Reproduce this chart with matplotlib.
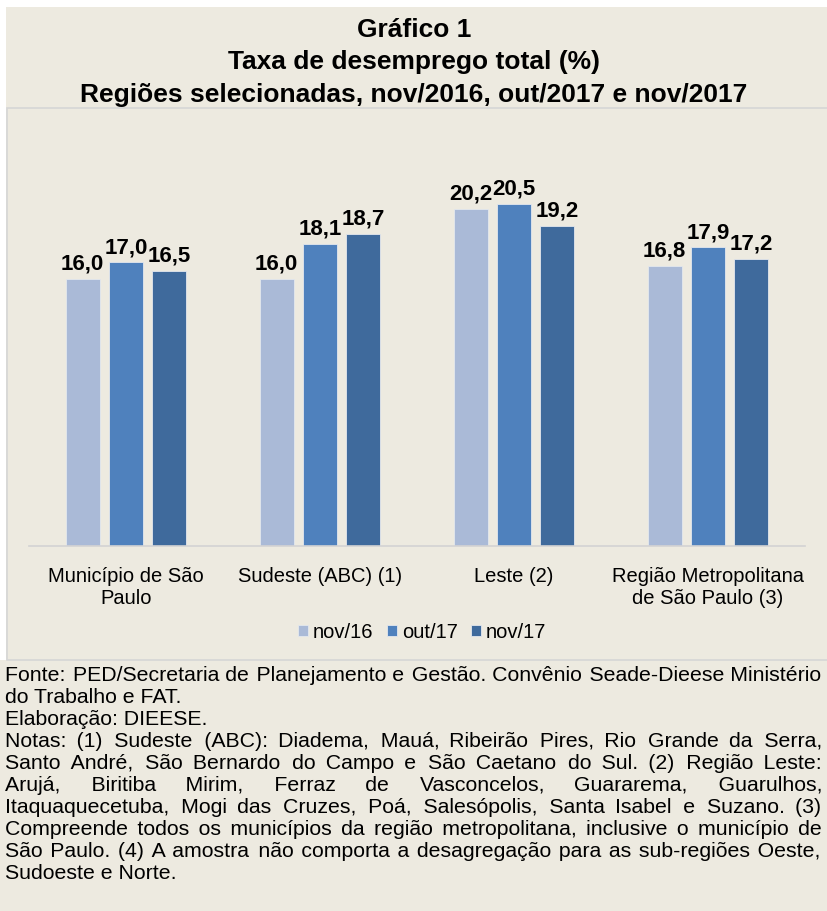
import matplotlib
matplotlib.use("Agg")
import matplotlib.pyplot as plt
from matplotlib.patches import Rectangle
import numpy as np

# ---- data ----
categories = ["Município de São\nPaulo", "Sudeste (ABC) (1)", "Leste (2)",
              "Região Metropolitana\nde São Paulo (3)"]
series_names = ["nov/16", "out/17", "nov/17"]
nov16 = [16.0, 16.0, 20.2, 16.8]
out17 = [17.0, 18.1, 20.5, 17.9]
nov17 = [16.5, 18.7, 19.2, 17.2]
colors = ["#AABAD7", "#4F81BD", "#3F6A9C"]

title_lines = ["Gráfico 1", "Taxa de desemprego total (%)",
               "Regiões selecionadas, nov/2016, out/2017 e nov/2017"]

notes = [
    ("Fonte: PED/Secretaria de Planejamento e Gestão. Convênio Seade-Dieese Ministério", True),
    ("do Trabalho e FAT.", False),
    ("Elaboração: DIEESE.", False),
    ("Notas: (1) Sudeste (ABC): Diadema, Mauá, Ribeirão Pires, Rio Grande da Serra,", True),
    ("Santo André, São Bernardo do Campo e São Caetano do Sul. (2) Região Leste:", True),
    ("Arujá, Biritiba Mirim, Ferraz de Vasconcelos, Guararema, Guarulhos,", True),
    ("Itaquaquecetuba, Mogi das Cruzes, Poá, Salesópolis, Santa Isabel e Suzano. (3)", True),
    ("Compreende todos os municípios da região metropolitana, inclusive o município de", True),
    ("São Paulo. (4) A amostra não comporta a desagregação para as sub-regiões Oeste,", True),
    ("Sudoeste e Norte.", False),
]

W, H = 827, 911
BG = "#EDEAE0"
FAM = ["Liberation Sans", "DejaVu Sans"]

fig = plt.figure(figsize=(W / 100, H / 100), dpi=100)
fig.patch.set_facecolor(BG)

def fx(px):
    return px / W

def fy(py):
    return 1 - py / H

# white strips (top / left)
fig.patches.append(Rectangle((0, fy(7)), 1, 7 / H, transform=fig.transFigure,
                             facecolor="white", edgecolor="none", zorder=-2))
fig.patches.append(Rectangle((0, fy(660)), 6 / W, 660 / H, transform=fig.transFigure,
                             facecolor="white", edgecolor="none", zorder=-2))
# chart box border
fig.patches.append(Rectangle((fx(7), fy(660)), (W + 5 - 7) / W, (660 - 108) / H,
                             transform=fig.transFigure, facecolor=BG,
                             edgecolor="#D6D6D6", linewidth=1.2, zorder=-1))

# ---- title ----
for i, t in enumerate(title_lines):
    fig.text(fx(414), fy(30 + i * 32.5), t, ha="center", va="center",
             fontsize=19, fontweight="bold", family=FAM, color="black")

# ---- axes ----
left, right = 29, 805
base, topy = 546, 129
ax = fig.add_axes([fx(left), fy(base), (right - left) / W, (base - topy) / H])
ax.set_facecolor("none")
x = np.arange(len(categories))
off = 0.224
width = 0.175
for k, (vals, c) in enumerate(zip([nov16, out17, nov17], colors)):
    bars = ax.bar(x + (k - 1) * off, vals, width=width, color=c,
                  edgecolor="#E4E8EE", linewidth=0.6, label=series_names[k])
    for b, v in zip(bars, vals):
        ax.annotate(f"{v:.1f}".replace(".", ","),
                    (b.get_x() + b.get_width() / 2, v),
                    xytext=(0, 3), textcoords="offset points",
                    ha="center", va="bottom", fontsize=16, fontweight="bold",
                    family=FAM, color="black")

ax.set_xlim(-0.5, len(categories) - 0.5)
ax.set_ylim(0, 25)
ax.set_yticks([])
for s in ["top", "right", "left"]:
    ax.spines[s].set_visible(False)
ax.spines["bottom"].set_color("#D3D3D3")
ax.spines["bottom"].set_linewidth(1.2)
ax.set_xticks(x)
ax.set_xticklabels(categories, fontsize=14.5, family=FAM, linespacing=1.2)
ax.tick_params(axis="x", length=0, pad=15)

leg = fig.legend(loc="center", bbox_to_anchor=(fx(422), fy(632)), ncol=3,
                 frameon=False, prop={"family": FAM, "size": 14.5},
                 handlelength=0.5, handleheight=0.5, handletextpad=0.25,
                 columnspacing=0.65)

# ---- justified notes (each line one text; gaps built from space characters) ----
renderer = fig.canvas.get_renderer()
x0, x1 = 5, 822

def width_of(s, fs):
    t = fig.text(0, 0, s, fontsize=fs, family=FAM)
    w = t.get_window_extent(renderer=renderer).width
    t.remove()
    return w

def adv(s, fs):
    return width_of("a" + s + "a", fs) - width_of("aa", fs)

scale = min((x1 - x0) / width_of(l, 10) for l, j in notes if j)
NFS = 10 * scale * 0.995

SP, TH, HR = " ", "\u2009", "\u200a"
w_sp, w_th, w_hr = adv(SP, NFS), adv(TH, NFS), adv(HR, NFS)

def justify(line):
    words = line.split(" ")
    ws = [adv(w, NFS) for w in words]
    g = (x1 - x0 - sum(ws)) / (len(words) - 1)
    out = words[0]
    cur = ws[0]
    acc = ws[0]
    for i in range(1, len(words)):
        target = acc + g
        need = target - cur
        n_sp = int(need // w_sp) if w_sp > 0 else 0
        rem = need - n_sp * w_sp
        n_th = int(rem // w_th) if w_th > 0 else 0
        rem -= n_th * w_th
        n_hr = int(round(rem / w_hr)) if w_hr > 0 else 0
        rem -= n_hr * w_hr
        out += SP * n_sp + TH * n_th + HR * n_hr + words[i]
        cur = target - rem + ws[i]
        acc = target + ws[i]
    return out

y0, dy = 681, 22
for i, (line, just) in enumerate(notes):
    y = y0 + i * dy
    s = justify(line) if just else line
    fig.text(fx(x0), fy(y), s, ha="left", va="baseline", fontsize=NFS,
             family=FAM, color="black")

fig.savefig("out.png", dpi=100, facecolor=fig.get_facecolor())
